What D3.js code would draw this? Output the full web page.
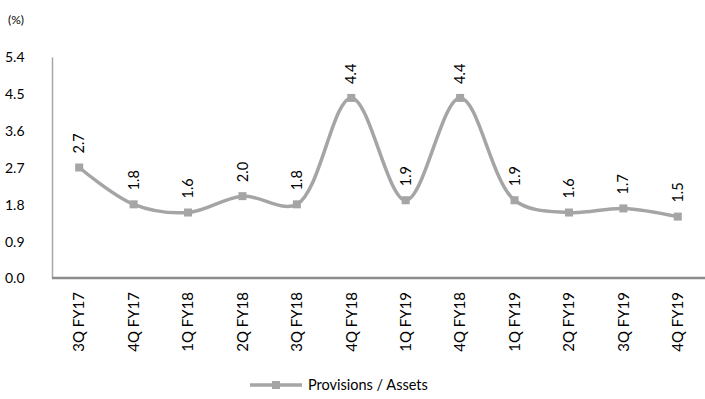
<!DOCTYPE html>
<html>
<head>
<meta charset="utf-8">
<script src="https://cdn.jsdelivr.net/npm/d3@7"></script>
<style>
  html, body { margin: 0; padding: 0; background: #fff; }
  text { font-family: "Lato", "DejaVu Sans", sans-serif; fill: #000; }
</style>
</head>
<body>
<svg id="chart" width="705" height="399"></svg>
<script>
// Quarterly provisions-to-assets ratio (%)
const quarters = ["3Q FY17", "4Q FY17", "1Q FY18", "2Q FY18", "3Q FY18", "4Q FY18",
                  "1Q FY19", "4Q FY18", "1Q FY19", "2Q FY19", "3Q FY19", "4Q FY19"];
const provisionsToAssets = [2.7, 1.8, 1.6, 2.0, 1.8, 4.4, 1.9, 4.4, 1.9, 1.6, 1.7, 1.5];
const yTicks = [0.0, 0.9, 1.8, 2.7, 3.6, 4.5, 5.4];
const seriesName = "Provisions / Assets";

const svg = d3.select("#chart");
const margin = { left: 52, right: 0, top: 57, bottom: 121 };
const W = 705, H = 399;
const lineColor = "#a5a5a5";

const x = d3.scaleBand()
  .domain(d3.range(quarters.length))
  .range([margin.left, W - margin.right])
  .paddingInner(0).paddingOuter(0);

const y = d3.scaleLinear()
  .domain([0, 5.4])
  .range([H - margin.bottom, margin.top]);

// Y axis: line only, labels on the left
const yAxis = svg.append("g")
  .attr("transform", `translate(${margin.left},0)`)
  .call(d3.axisLeft(y).tickValues(yTicks).tickFormat(d3.format(".1f")).tickSize(0).tickPadding(20));
yAxis.select(".domain").attr("stroke", "#a6a6a6").attr("stroke-width", 1.5);
yAxis.selectAll("text").attr("font-size", 14).attr("text-anchor", "start").attr("x", -47).attr("dy", "0.35em");

// X axis with rotated quarter labels
const xAxis = svg.append("g")
  .attr("transform", `translate(0,${y(0)})`)
  .call(d3.axisBottom(x).tickFormat(i => quarters[i]).tickSize(0));
xAxis.select(".domain").attr("stroke", "#8c8c8c").attr("stroke-width", 2.5).attr("d", `M${margin.left},0H${W}`);
xAxis.selectAll("text")
  .attr("font-size", 15)
  .attr("transform", "rotate(-90)")
  .attr("text-anchor", "end")
  .attr("x", -14)
  .attr("y", 0)
  .attr("dy", "0.35em");

// Smoothed series line
const line = d3.line()
  .x((d, i) => x(i) + x.bandwidth() / 2)
  .y(d => y(d))
  .curve(d3.curveCatmullRom.alpha(0.5));

svg.append("path")
  .datum(provisionsToAssets)
  .attr("d", line)
  .attr("fill", "none")
  .attr("stroke", lineColor)
  .attr("stroke-width", 3.5);

// Square markers
const ms = 8;
svg.append("g").selectAll("rect")
  .data(provisionsToAssets)
  .join("rect")
  .attr("x", (d, i) => x(i) + x.bandwidth() / 2 - ms / 2)
  .attr("y", d => y(d) - ms / 2)
  .attr("width", ms).attr("height", ms)
  .attr("fill", lineColor);

// Value labels, rotated, above each point
svg.append("g").selectAll("text")
  .data(provisionsToAssets)
  .join("text")
  .attr("transform", (d, i) => `translate(${x(i) + x.bandwidth() / 2},${y(d) - 14}) rotate(-90)`)
  .attr("text-anchor", "start")
  .attr("dy", "0.35em")
  .attr("font-size", 14.5)
  .text(d => d3.format(".1f")(d));

// Unit label
svg.append("text").attr("x", 8).attr("y", 24).attr("font-size", 12).text("(%)");

// Legend
const lg = svg.append("g").attr("transform", "translate(250,385)");
lg.append("line").attr("x1", 0).attr("x2", 52).attr("y1", 0).attr("y2", 0)
  .attr("stroke", lineColor).attr("stroke-width", 3.5);
lg.append("rect").attr("x", 26 - ms / 2).attr("y", -ms / 2).attr("width", ms).attr("height", ms).attr("fill", lineColor);
lg.append("text").attr("x", 58).attr("y", 0).attr("dy", "0.35em").attr("font-size", 14.5).text(seriesName);
</script>
</body>
</html>
